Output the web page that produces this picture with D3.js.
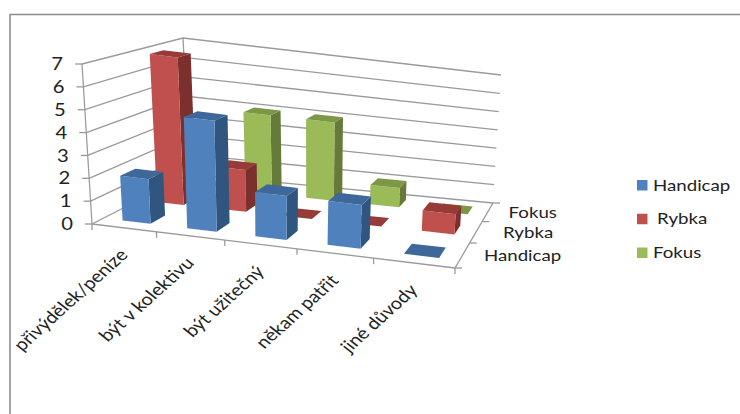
<!DOCTYPE html>
<html>
<head>
<meta charset="utf-8">
<style>
html, body { margin: 0; padding: 0; background: #fff; }
svg { display: block; }
text { font-family: "Lato", "Open Sans", sans-serif; fill: #222; }
</style>
<script src="https://cdn.jsdelivr.net/npm/d3@7"></script>
</head>
<body>
<div id="chart"></div>
<script>
const categories = ["přivýdělek/peníze", "být v kolektivu", "být užitečný", "někam patřit", "jiné důvody"];
const seriesNames = ["Handicap", "Rybka", "Fokus"];
const handicap = [2, 5, 2, 2, 0];
const rybka = [7, 2, 0, 0, 1];
const fokus = [0, 4, 4, 1, 0];
const valueTicks = [0, 1, 2, 3, 4, 5, 6, 7];

const W = 740, H = 414;
const svg = d3.select("#chart").append("svg").attr("width", W).attr("height", H);

// Frame around the chart area
svg.append("path")
  .attr("d", "M10,414V14.5H740")
  .attr("fill", "none").attr("stroke", "#8c8c8c").attr("stroke-width", 1.6);

// Projective map from the unit square onto a quadrilateral
function quadMap(p0, p1, p2, p3) {
  const dx1 = p1[0] - p2[0], dx2 = p3[0] - p2[0], sx = p0[0] - p1[0] + p2[0] - p3[0];
  const dy1 = p1[1] - p2[1], dy2 = p3[1] - p2[1], sy = p0[1] - p1[1] + p2[1] - p3[1];
  const den = dx1 * dy2 - dx2 * dy1;
  const g = (sx * dy2 - dx2 * sy) / den, h = (dx1 * sy - sx * dy1) / den;
  const a = p1[0] - p0[0] + g * p1[0], b = p3[0] - p0[0] + h * p3[0];
  const d = p1[1] - p0[1] + g * p1[1], e = p3[1] - p0[1] + h * p3[1];
  return (u, v) => {
    const q = g * u + h * v + 1;
    return [(a * u + b * v + p0[0]) / q, (d * u + e * v + p0[1]) / q];
  };
}

// Floor and ceiling of the plot box: front-left, front-right, back-right, back-left
const floorMap = quadMap([92, 224], [455, 268], [493, 203], [190, 174]);
const ceilMap = quadMap([82, 64], [464, 114], [501, 75], [183, 38]);

const catScale = d3.scaleBand().domain(categories).range([0, 1]);
const serScale = d3.scaleBand().domain(seriesNames).range([0, 1]);
const valScale = d3.scaleLinear().domain([0, 7]).range([0, 1]);

// u across the categories, v into the depth, w = scaled height
function project(u, v, val) {
  const t = valScale(val), f = floorMap(u, v), c = ceilMap(u, v);
  return [f[0] + (c[0] - f[0]) * t, f[1] + (c[1] - f[1]) * t];
}
const poly = pts => "M" + pts.map(p => p.map(n => n.toFixed(2)).join(",")).join("L") + "Z";
const seg = (a, b) => `M${a[0]},${a[1]}L${b[0]},${b[1]}`;

// Lettering is set slightly wide
const stretch = 1.19;
function label(x, y, content, size, anchor, angle) {
  return svg.append("text")
    .attr("transform", `translate(${x},${y}) scale(${stretch},1)` + (angle ? ` rotate(${angle})` : ""))
    .attr("text-anchor", anchor).attr("dy", angle ? null : "0.36em")
    .attr("font-size", size).text(content);
}

const axisColor = "#9a9a9a";
const grid = svg.append("g").attr("fill", "none").attr("stroke", axisColor).attr("stroke-width", 1.3);

// Walls: each gridline runs along the left wall and across the back wall
valueTicks.forEach(v => {
  grid.append("path").attr("d",
    "M" + project(0, 0, v) + "L" + project(0, 1, v) + "L" + project(1, 1, v));
});
grid.append("path").attr("d", seg(project(0, 0, 0), project(0, 0, 7)));
grid.append("path").attr("d", seg(project(0, 1, 0), project(0, 1, 7)));

// Floor edges
grid.append("path").attr("d", seg(project(0, 0, 0), project(1, 0, 0)));
grid.append("path").attr("d", seg(project(1, 0, 0), project(1, 1, 0)));

// Value axis ticks and labels
valueTicks.forEach(v => {
  const p = project(0, 0, v);
  grid.append("path").attr("d", `M${p[0] - 7},${p[1]}H${p[0]}`);
  label(p[0] - 19, p[1], v, 17, "end");
});

// Category ticks and slanted labels
d3.range(categories.length + 1).forEach(i => {
  const p = project(i / categories.length, 0, 0);
  grid.append("path").attr("d", `M${p[0]},${p[1]}V${p[1] + 6}`);
});
categories.forEach(c => {
  const p = project(catScale(c) + catScale.bandwidth() / 2, 0, 0);
  label(p[0] + 5, p[1] + 28, c, 16.8, "end", -47);
});

// Series ticks and labels along the right floor edge
d3.range(seriesNames.length + 1).forEach(i => {
  const p = project(1, i / seriesNames.length, 0);
  grid.append("path").attr("d", `M${p[0]},${p[1]}H${p[0] + 7}`);
});
const seriesLabelOffset = d3.scaleOrdinal().domain(seriesNames).range([60, 52, 45]);
seriesNames.forEach(s => {
  const p = project(1, serScale(s) + serScale.bandwidth() / 2, 0);
  label(p[0] + seriesLabelOffset(s), p[1], s, 15.7, "middle");
});

// Bars, painted from the back row forward
const palette = {
  Handicap: { front: "#4f81bd", side: "#30557f", top: "#3d6899" },
  Rybka: { front: "#c0504d", side: "#7c302e", top: "#973b39" },
  Fokus: { front: "#9bbb59", side: "#667b39", top: "#7c9847" }
};
const seriesValues = { Handicap: handicap, Rybka: rybka, Fokus: fokus };
const barFill = 0.44, barDepth = 0.42, barShift = 0.03;
const bars = svg.append("g");
[...seriesNames].reverse().forEach(s => {
  categories.forEach((c, i) => {
    const val = seriesValues[s][i];
    const bw = catScale.bandwidth(), sw = serScale.bandwidth();
    const u0 = catScale(c) + bw * ((1 - barFill) / 2 + barShift), u1 = u0 + bw * barFill;
    const v0 = serScale(s) + sw * (1 - barDepth) / 2, v1 = v0 + sw * barDepth;
    const col = palette[s];
    const g = bars.append("g");
    if (val > 0) {
      g.append("path").attr("fill", col.side).attr("d",
        poly([project(u1, v0, 0), project(u1, v1, 0), project(u1, v1, val), project(u1, v0, val)]));
      g.append("path").attr("fill", col.front).attr("d",
        poly([project(u0, v0, 0), project(u1, v0, 0), project(u1, v0, val), project(u0, v0, val)]));
    }
    g.append("path").attr("fill", col.top).attr("d",
      poly([project(u0, v0, val), project(u1, v0, val), project(u1, v1, val), project(u0, v1, val)]));
  });
});

// Legend
const legendY = d3.scalePoint().domain(seriesNames).range([185, 252.5]);
const legendDx = d3.scaleOrdinal().domain(seriesNames).range([0, 4, 0]);
seriesNames.forEach(s => {
  svg.append("rect").attr("x", 637).attr("y", legendY(s) - 5).attr("width", 10.5).attr("height", 10.5)
    .attr("fill", palette[s].front);
  label(653 + legendDx(s), legendY(s), s, 15.7, "start");
});
</script>
</body>
</html>
